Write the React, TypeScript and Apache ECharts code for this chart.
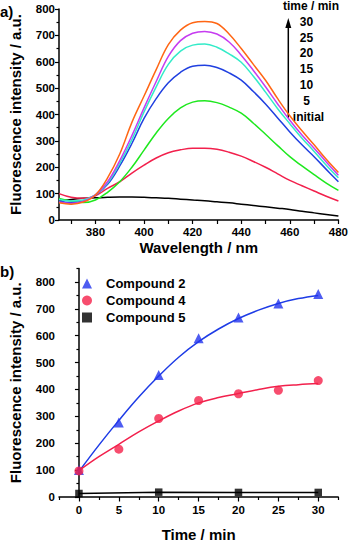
import React, { useEffect, useRef } from "react";
import * as echarts from "echarts";

// ---------- Panel a: emission spectra ----------
const wavelengths = [365, 370, 375, 380, 385, 390, 395, 400, 405, 410, 415, 420, 425, 430, 435, 440, 445, 450, 455, 460, 465, 470, 475, 480];
const spec30 = [65, 60, 68, 95, 160, 250, 370, 470, 570, 665, 720, 748, 753, 745, 705, 650, 590, 530, 460, 395, 338, 285, 230, 180];
const spec25 = [68, 63, 70, 95, 145, 225, 320, 425, 525, 620, 680, 708, 715, 705, 675, 625, 567, 505, 440, 378, 322, 272, 220, 170];
const spec20 = [78, 72, 76, 95, 140, 215, 305, 410, 505, 590, 640, 663, 667, 655, 630, 598, 545, 485, 422, 365, 310, 260, 208, 160];
const spec15 = [72, 66, 72, 94, 135, 205, 290, 385, 460, 520, 560, 583, 587, 578, 558, 530, 487, 440, 387, 334, 285, 240, 192, 145];
const spec10 = [82, 72, 66, 76, 105, 145, 200, 265, 330, 385, 425, 447, 452, 445, 428, 405, 367, 325, 282, 240, 205, 172, 140, 112];
const spec5 = [100, 86, 82, 92, 120, 145, 178, 208, 235, 255, 266, 272, 272, 268, 257, 242, 222, 200, 175, 150, 130, 110, 90, 72];
const specInitial = [72, 78, 82, 84, 86, 87, 87, 86, 84, 82, 79, 76, 73, 69, 65, 60, 55, 50, 45, 40, 33, 27, 21, 15];
const timeLabels = ["30", "25", "20", "15", "10", "5", "initial"];
const waveTicks = [370, 380, 390, 400, 410, 420, 430, 440, 450, 460, 470, 480];
const waveLabels = [380, 400, 420, 440, 460, 480];
const intensityLabelsA = [0, 100, 200, 300, 400, 500, 600, 700, 800];
const intensityMinorA = [50, 150, 250, 350, 450, 550, 650, 750];

// ---------- Panel b: kinetics ----------
const times = [0, 5, 10, 15, 20, 25, 30];
const compound2 = [100, 277, 454, 591, 668, 720, 755];
const compound4 = [97, 178, 292, 359, 384, 397, 433];
const times5 = [0, 10, 20, 30];
const compound5 = [13, 18, 17, 17];
const fitTimes = [0, 2.5, 5, 7.5, 10, 12.5, 15, 17.5, 20, 22.5, 25, 27.5, 30];
const fit2 = [95, 193, 285, 372, 450, 520, 578, 625, 664, 695, 720, 738, 750];
const fit4 = [98, 150, 196, 242, 283, 320, 350, 370, 385, 400, 412, 418, 422];
const timeTicksMajor = [0, 5, 10, 15, 20, 25, 30];
const timeTicksMinor = [-2.5, 2.5, 7.5, 12.5, 17.5, 22.5, 27.5, 32.5];
const intensityLabelsB = [0, 100, 200, 300, 400, 500, 600, 700, 800];
const intensityMinorB = [50, 150, 250, 350, 450, 550, 650, 750, 850];

const FONT = "'Liberation Sans', Arial, sans-serif";

function zip(xs: number[], ys: number[]) {
  return xs.map((x, i) => [x, ys[i]]);
}

export default function App() {
  const ref = useRef<HTMLDivElement>(null);
  useEffect(() => {
    if (!ref.current) return;
    const chart = echarts.init(ref.current, null, { renderer: "svg" });
    const axisLine = { show: true, lineStyle: { color: "#000", width: 1.5 } };
    const labelStyle = { color: "#000", fontSize: 11.5, fontWeight: "bold" as const, fontFamily: FONT };
    const nameStyle = { color: "#000", fontSize: 15, fontWeight: "bold" as const, fontFamily: FONT };

    const lineSeries = (name: string, data: number[], color: string) => ({
      type: "line",
      name,
      xAxisIndex: 0,
      yAxisIndex: 0,
      data: zip(wavelengths, data),
      smooth: 0.4,
      showSymbol: false,
      symbol: "none",
      lineStyle: { color, width: 1.5 },
      z: 3,
    });

    const option: any = {
      animation: false,
      grid: [
        { left: 56, top: 9, width: 284, height: 211 },
        { left: 55.8, top: 268.5, width: 282.4, height: 229.5 },
      ],
      xAxis: [
        {
          gridIndex: 0, type: "value", min: 365, max: 480,
          axisLine, splitLine: { show: false },
          axisTick: { show: true, customValues: waveTicks, length: 4, lineStyle: { color: "#000", width: 1.2 } },
          axisLabel: { ...labelStyle, customValues: waveLabels, margin: 6 },
          name: "Wavelength / nm", nameLocation: "middle", nameGap: 20, nameTextStyle: nameStyle,
        },
        {
          gridIndex: 1, type: "value", min: -2.5, max: 32.5,
          axisLine, splitLine: { show: false },
          axisTick: { show: true, customValues: timeTicksMajor, length: 4.5, lineStyle: { color: "#000", width: 1.2 } },
          axisLabel: { ...labelStyle, customValues: timeTicksMajor, margin: 7 },
          name: "Time / min", nameLocation: "middle", nameGap: 30, nameTextStyle: nameStyle,
        },
        {
          gridIndex: 1, type: "value", min: -2.5, max: 32.5, position: "bottom",
          axisLine: { show: false }, splitLine: { show: false },
          axisTick: { show: true, customValues: timeTicksMinor, length: 3, lineStyle: { color: "#000", width: 1.2 } },
          axisLabel: { show: false },
        },
      ],
      yAxis: [
        {
          gridIndex: 0, type: "value", min: 0, max: 800,
          axisLine, splitLine: { show: false },
          axisTick: { show: true, customValues: intensityLabelsA, length: 4, lineStyle: { color: "#000", width: 1.2 } },
          axisLabel: { ...labelStyle, customValues: intensityLabelsA, margin: 4 },
          name: "Fluorescence intensity / a.u.", nameLocation: "middle", nameGap: 36, nameRotate: 90, nameTextStyle: nameStyle,
        },
        {
          gridIndex: 0, type: "value", min: 0, max: 800, position: "left",
          axisLine: { show: false }, splitLine: { show: false },
          axisTick: { show: true, customValues: intensityMinorA, length: 2.5, lineStyle: { color: "#000", width: 1.2 } },
          axisLabel: { show: false },
        },
        {
          gridIndex: 1, type: "value", min: 0, max: 850,
          axisLine, splitLine: { show: false },
          axisTick: { show: true, customValues: intensityLabelsB, length: 4, lineStyle: { color: "#000", width: 1.2 } },
          axisLabel: { ...labelStyle, customValues: intensityLabelsB, margin: 4 },
          name: "Fluorescence intensity / a.u.", nameLocation: "middle", nameGap: 36, nameRotate: 90, nameTextStyle: nameStyle,
        },
        {
          gridIndex: 1, type: "value", min: 0, max: 850, position: "left",
          axisLine: { show: false }, splitLine: { show: false },
          axisTick: { show: true, customValues: intensityMinorB, length: 2.5, lineStyle: { color: "#000", width: 1.2 } },
          axisLabel: { show: false },
        },
      ],
      legend: {
        data: [
          { name: "Compound 2", icon: "triangle" },
          { name: "Compound 4", icon: "circle" },
          { name: "Compound 5", icon: "rect" },
        ],
        orient: "vertical",
        left: 77,
        top: 272,
        itemWidth: 10,
        itemHeight: 10,
        itemGap: 4,
        symbolKeepAspect: true,
        textStyle: { color: "#000", fontSize: 13, fontWeight: "bold", fontFamily: FONT, padding: [0, 0, 0, 9] },
      },
      series: [
        lineSeries("initial", specInitial, "#000000"),
        lineSeries("5", spec5, "#F2204C"),
        lineSeries("10", spec10, "#1EE81E"),
        lineSeries("15", spec15, "#2040E0"),
        lineSeries("20", spec20, "#33EBC8"),
        lineSeries("25", spec25, "#C63CF0"),
        lineSeries("30", spec30, "#FF6614"),
        {
          type: "line", name: "fit2", xAxisIndex: 1, yAxisIndex: 2,
          data: zip(fitTimes, fit2), smooth: 0.4, showSymbol: false, symbol: "none",
          lineStyle: { color: "#1E3CE6", width: 1.5 }, z: 2,
        },
        {
          type: "line", name: "fit4", xAxisIndex: 1, yAxisIndex: 2,
          data: zip(fitTimes, fit4), smooth: 0.4, showSymbol: false, symbol: "none",
          lineStyle: { color: "#F2204C", width: 1.5 }, z: 2,
        },
        {
          type: "line", name: "link5", xAxisIndex: 1, yAxisIndex: 2,
          data: zip(times5, compound5), showSymbol: false, symbol: "none",
          lineStyle: { color: "#000", width: 1.5 }, z: 2,
        },
        {
          type: "scatter", name: "Compound 2", xAxisIndex: 1, yAxisIndex: 2,
          data: zip(times, compound2), symbol: "triangle", symbolSize: 10,
          itemStyle: { color: "#2233EE" }, z: 4,
        },
        {
          type: "scatter", name: "Compound 4", xAxisIndex: 1, yAxisIndex: 2,
          data: zip(times, compound4), symbol: "circle", symbolSize: 9,
          itemStyle: { color: "#F5204A" }, z: 4,
        },
        {
          type: "scatter", name: "Compound 5", xAxisIndex: 1, yAxisIndex: 2,
          data: zip(times5, compound5), symbol: "rect", symbolSize: 7.5,
          itemStyle: { color: "#000" }, z: 4,
        },
      ],
      graphic: [
        { type: "text", left: 0, top: 4, style: { text: "a)", font: `bold 15px ${FONT}`, fill: "#000" } },
        { type: "text", left: 0, top: 264, style: { text: "b)", font: `bold 15px ${FONT}`, fill: "#000" } },
        { type: "line", shape: { x1: 288.3, y1: 118, x2: 288.3, y2: 24 }, style: { stroke: "#000", lineWidth: 1.5 } },
        { type: "polygon", shape: { points: [[288.3, 18], [285.3, 28], [291.3, 28]] }, style: { fill: "#000" } },
        {
          type: "text", x: 311, y: 6,
          style: { text: "time / min", font: `bold 12px ${FONT}`, fill: "#000", align: "center", verticalAlign: "middle" },
        },
        ...timeLabels.map((t, i) => ({
          type: "text", x: t === "initial" ? 308.5 : 306.5, y: 21.7 + i * 15.8,
          style: { text: t, font: `bold 12px ${FONT}`, fill: "#000", align: "center", verticalAlign: "middle" },
        })),
      ],
    };
    chart.setOption(option);
    return () => chart.dispose();
  }, []);
  return (
    <div
      ref={ref}
      style={{ position: "fixed", left: 0, top: 0, width: 351, height: 543, background: "#fff" }}
    />
  );
}
